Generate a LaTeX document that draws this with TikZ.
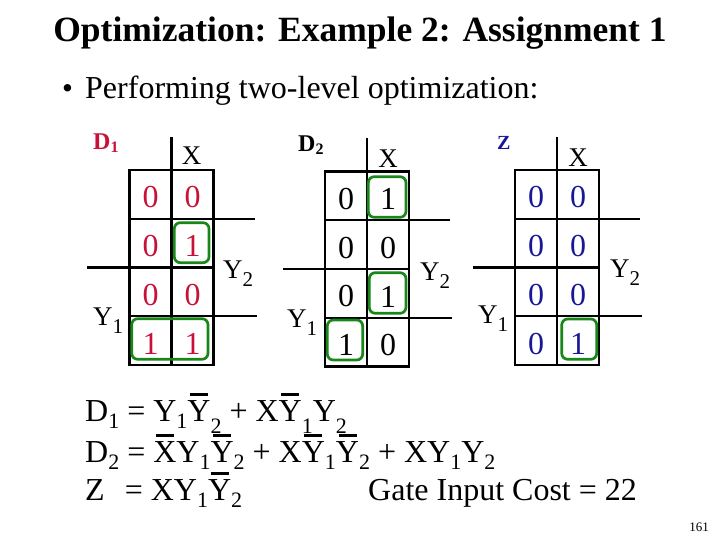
\documentclass[tikz,border=0pt]{standalone}
\usepackage{fontspec}
\setmainfont{Liberation Serif}
\usetikzlibrary{positioning}
\definecolor{kred}{RGB}{200,16,56}
\definecolor{kblue}{RGB}{24,24,150}
\definecolor{kgreen}{RGB}{24,134,24}
\newcommand{\dn}[1]{\raisebox{-7pt}{\fontsize{22}{22}\selectfont #1}}
\newcommand{\dnn}[1]{\raisebox{-12pt}{\fontsize{22}{22}\selectfont #1}}
\newcommand{\ovr}[1]{\sbox0{#1}\rlap{\hbox to \wd0{\hss\rule[25pt]{18pt}{3pt}\hss}}\usebox0}
\newcommand{\lsub}[1]{\raisebox{-8pt}{\fontsize{21}{21}\selectfont #1}}
\newcommand{\hsub}[1]{\raisebox{-3pt}{\fontsize{16}{16}\selectfont #1}}
\tikzset{
  kline/.style={line width=2.2pt, line cap=rect},
  grp/.style={draw=kgreen, line width=2.7pt, rounded corners=6pt},
  dig/.style={inner sep=0pt, font=\fontsize{32}{32}\selectfont},
  klab/.style={inner sep=0pt, font=\fontsize{27}{27}\selectfont},
  fname/.style={inner sep=0pt, anchor=base west, font=\fontsize{24}{24}\selectfont\bfseries},
  eq/.style={inner sep=0pt, anchor=base west, font=\fontsize{32}{32}\selectfont},
}
\begin{document}
\begin{tikzpicture}[x=1pt,y=-1pt]
\useasboundingbox (0,0) rectangle (720,540);
\node[inner sep=0pt, anchor=base, font=\fontsize{35.5}{35.5}\selectfont\bfseries] (title) at (360,42) {Optimization: Example 2: Assignment 1};
\node[inner sep=0pt, anchor=base west, font=\fontsize{31}{31}\selectfont] (bul) at (62,99) {\textbullet};
\node[inner sep=0pt, anchor=base west, font=\fontsize{32}{32}\selectfont] (intro) at (85,99) {Performing two-level optimization:};

\foreach \mx/\my in {129.5/170,325/171.5,515/170}{
  \draw[kline] (\mx,\my) rectangle ++(84,195);
  \draw[kline] (\mx+42,\my-32) -- (\mx+42,\my+195);
  \draw[kline] (\mx,\my+48.75) -- (\mx+124,\my+48.75);
  \draw[kline] (\mx-41,\my+97.5) -- (\mx+84,\my+97.5);
  \draw[kline] (\mx,\my+146.25) -- (\mx+126,\my+146.25);
}

\foreach \a/\b [count=\r] in {0/0,0/1,0/0,1/1}{
  \node[dig,text=kred] (da\r) at (150.5,{170+27.5+48.75*(\r-1)}) {\a};
  \node[dig,text=kred] (db\r) at (192.5,{170+27.5+48.75*(\r-1)}) {\b};
}
\foreach \a/\b [count=\r] in {0/1,0/0,0/1,1/0}{
  \node[dig] (ea\r) at (346,{171.5+27.5+48.75*(\r-1)}) {\a};
  \node[dig] (eb\r) at (388,{171.5+27.5+48.75*(\r-1)}) {\b};
}
\foreach \a/\b [count=\r] in {0/0,0/0,0/0,0/1}{
  \node[dig,text=kblue] (za\r) at (536,{170+27.5+48.75*(\r-1)}) {\a};
  \node[dig,text=kblue] (zb\r) at (578,{170+27.5+48.75*(\r-1)}) {\b};
}

\node[fname,text=kred] (fd1) at (93,150) {D\hsub{1}};
\node[klab,anchor=base] (xa) at (191.5,165) {X};
\node[klab,anchor=base west] (ya2) at (223,278) {Y\lsub{2}};
\node[klab,anchor=base west] (ya1) at (93,325) {Y\lsub{1}};

\node[fname] (fd2) at (298,152) {D\hsub{2}};
\node[klab,anchor=base] (xb) at (388,168) {X};
\node[klab,anchor=base west] (yb2) at (420,280) {Y\lsub{2}};
\node[klab,anchor=base west] (yb1) at (287,327) {Y\lsub{1}};

\node[fname,text=kblue,font=\fontsize{20}{20}\selectfont\bfseries] (fz) at (497,150) {Z};
\node[klab,anchor=base] (xc) at (578,167) {X};
\node[klab,anchor=base west] (yc2) at (610,277) {Y\lsub{2}};
\node[klab,anchor=base west] (yc1) at (478,323) {Y\lsub{1}};

\draw[grp] (174.3,222.7) rectangle (209,262.7);
\draw[grp] (131.7,318.7) rectangle (208,359.3);
\draw[grp] (368.3,176.7) rectangle (406,217.3);
\draw[grp] (369.3,272.7) rectangle (406,313.3);
\draw[grp] (327.3,320) rectangle (362.7,360);
\draw[grp] (561.7,319) rectangle (596.7,359.3);

\node[eq] (eqa) at (85,421) {D\dn{1} = Y\dn{1}\ovr{Y}\dnn{2} + X\ovr{Y}\dnn{1}Y\dnn{2}};
\node[eq] (eqb) at (85,462) {D\dn{2} = \ovr{X}Y\dn{1}\ovr{Y}\dn{2} + X\ovr{Y}\dn{1}\ovr{Y}\dn{2} + XY\dn{1}Y\dn{2}};
\node[eq] (eqc) at (85,500) {Z\hspace{20pt}= XY\dn{1}\ovr{Y}\dn{2}};
\node[eq] (cost) at (368,500) {Gate Input Cost = 22};
\node[inner sep=0pt, font=\fontsize{13}{13}\selectfont] (pg) at (699,527) {161};
\end{tikzpicture}
\end{document}
